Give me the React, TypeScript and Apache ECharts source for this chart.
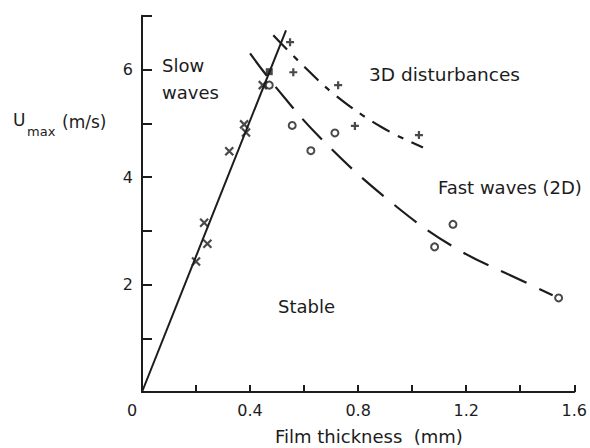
import React, { useEffect, useRef } from "react";
import * as echarts from "echarts";

// Axis ticks
const xLabelValues = [0, 0.4, 0.8, 1.2, 1.6];
const yLabelValues = [2, 4, 6];

// Slow waves (x markers)
const crossX = [0.2, 0.23, 0.242, 0.323, 0.378, 0.385, 0.447];
const crossY = [2.43, 3.15, 2.76, 4.48, 4.98, 4.83, 5.71];

// 3D disturbances (+ markers)
const plusX = [0.548, 0.56, 0.726, 0.788, 1.025];
const plusY = [6.51, 5.95, 5.71, 4.95, 4.78];

// Fast waves (o markers)
const circleX = [0.471, 0.556, 0.625, 0.714, 1.083, 1.151, 1.542];
const circleY = [5.71, 4.96, 4.49, 4.82, 2.7, 3.12, 1.75];

// Filled square
const squareX = [0.471];
const squareY = [5.96];

// Stability boundary (solid line through origin)
const slowLineX = [0, 0.533];
const slowLineY = [0, 6.73];

// Fast-wave boundary (dashed curve)
const fastCurveX = [0.4, 0.499, 0.656, 0.898, 1.153, 1.428, 1.52];
const fastCurveY = [6.3, 5.65, 4.75, 3.63, 2.7, 2.02, 1.8];

// 3D boundary (dash-dot curve)
const d3CurveX = [0.486, 0.585, 0.714, 0.886, 1.04];
const d3CurveY = [6.64, 6.13, 5.53, 4.93, 4.55];

const zip = (xs: number[], ys: number[]) => xs.map((x, i) => [x, ys[i]]);

const INK = "#1c1c1c";
const FONT = "DejaVu Sans";

export default function App() {
  const ref = useRef<HTMLDivElement>(null);
  useEffect(() => {
    if (!ref.current) return;
    const chart = echarts.init(ref.current, undefined, { renderer: "svg" });
    const markerStyle = {
      color: "transparent",
      borderColor: INK,
      borderWidth: 2.2,
    };
    chart.setOption({
      animation: false,
      backgroundColor: "#ffffff",
      grid: { left: 142, right: 15, top: 15.8, bottom: 56, containLabel: false },
      xAxis: {
        type: "value",
        min: 0,
        max: 1.6,
        interval: 0.2,
        splitLine: { show: false },
        axisLine: { show: true, lineStyle: { color: INK, width: 2 } },
        axisTick: { show: true, inside: true, length: 7, lineStyle: { color: INK, width: 2 } },
        axisLabel: {
          margin: 10,
          color: INK,
          fontFamily: FONT,
          fontSize: 16,
          formatter: (v: number) => {
            const r = Math.round(v * 10) / 10;
            if (!xLabelValues.some((t) => Math.abs(t - r) < 1e-6)) return "";
            if (r === 0) return "{z|0}";
            return r.toFixed(1);
          },
          rich: { z: { fontFamily: FONT, fontSize: 16, color: INK, padding: [0, 20, 0, 0] } },
        },
      },
      yAxis: {
        type: "value",
        min: 0,
        max: 7,
        interval: 1,
        splitLine: { show: false },
        axisLine: { show: true, lineStyle: { color: INK, width: 2 } },
        axisTick: { show: true, inside: true, length: 10, lineStyle: { color: INK, width: 2 } },
        axisLabel: {
          margin: 9,
          color: INK,
          fontFamily: FONT,
          fontSize: 16,
          formatter: (v: number) => (yLabelValues.includes(Math.round(v)) ? String(Math.round(v)) : ""),
        },
      },
      series: [
        {
          type: "line",
          data: zip(slowLineX, slowLineY),
          showSymbol: false,
          symbol: "none",
          lineStyle: { color: INK, width: 2 },
          silent: true,
        },
        {
          type: "line",
          data: zip(fastCurveX, fastCurveY),
          smooth: 0.4,
          showSymbol: false,
          symbol: "none",
          lineStyle: { color: INK, width: 2.2, type: [28, 14] },
          silent: true,
        },
        {
          type: "line",
          data: zip(d3CurveX, d3CurveY),
          smooth: 0.4,
          showSymbol: false,
          symbol: "none",
          lineStyle: { color: INK, width: 2.2, type: [20, 9, 6, 9] },
          silent: true,
        },
        {
          type: "scatter",
          data: zip(crossX, crossY),
          symbol: "path://M0,0L8,8M8,0L0,8",
          symbolSize: 8,
          itemStyle: markerStyle,
          silent: true,
        },
        {
          type: "scatter",
          data: zip(plusX, plusY),
          symbol: "path://M4,0L4,8M0,4L8,4",
          symbolSize: 8,
          itemStyle: markerStyle,
          silent: true,
        },
        {
          type: "scatter",
          data: zip(circleX, circleY),
          symbol: "circle",
          symbolSize: 7,
          itemStyle: { color: "#ffffff", borderColor: INK, borderWidth: 2 },
          silent: true,
        },
        {
          type: "scatter",
          data: zip(squareX, squareY),
          symbol: "rect",
          symbolSize: 7,
          itemStyle: { color: INK },
          silent: true,
        },
      ],
      graphic: [
        { type: "text", left: 13, top: 111, style: { text: "U", fontFamily: FONT, fontSize: 17, fill: INK } },
        { type: "text", left: 27, top: 125, style: { text: "max", fontFamily: FONT, fontSize: 13, fill: INK } },
        { type: "text", left: 62, top: 113, style: { text: "(m/s)", fontFamily: FONT, fontSize: 17, fill: INK, letterSpacing: 1.5 } },
        { type: "text", left: 275, top: 427, style: { text: "Film thickness  (mm)", fontFamily: FONT, fontSize: 18, fill: INK } },
        { type: "text", left: 162, top: 52, style: { text: "Slow\nwaves", fontFamily: FONT, fontSize: 18, lineHeight: 27, fill: INK } },
        { type: "text", left: 369, top: 65, style: { text: "3D disturbances", fontFamily: FONT, fontSize: 18.5, fill: INK } },
        { type: "text", left: 438, top: 178, style: { text: "Fast waves (2D)", fontFamily: FONT, fontSize: 18, fill: INK } },
        { type: "text", left: 278, top: 297, style: { text: "Stable", fontFamily: FONT, fontSize: 18, fill: INK } },
      ],
    });
    return () => chart.dispose();
  }, []);
  return (
    <div
      ref={ref}
      style={{ position: "absolute", left: 0, top: 0, width: 590, height: 448 }}
    />
  );
}
